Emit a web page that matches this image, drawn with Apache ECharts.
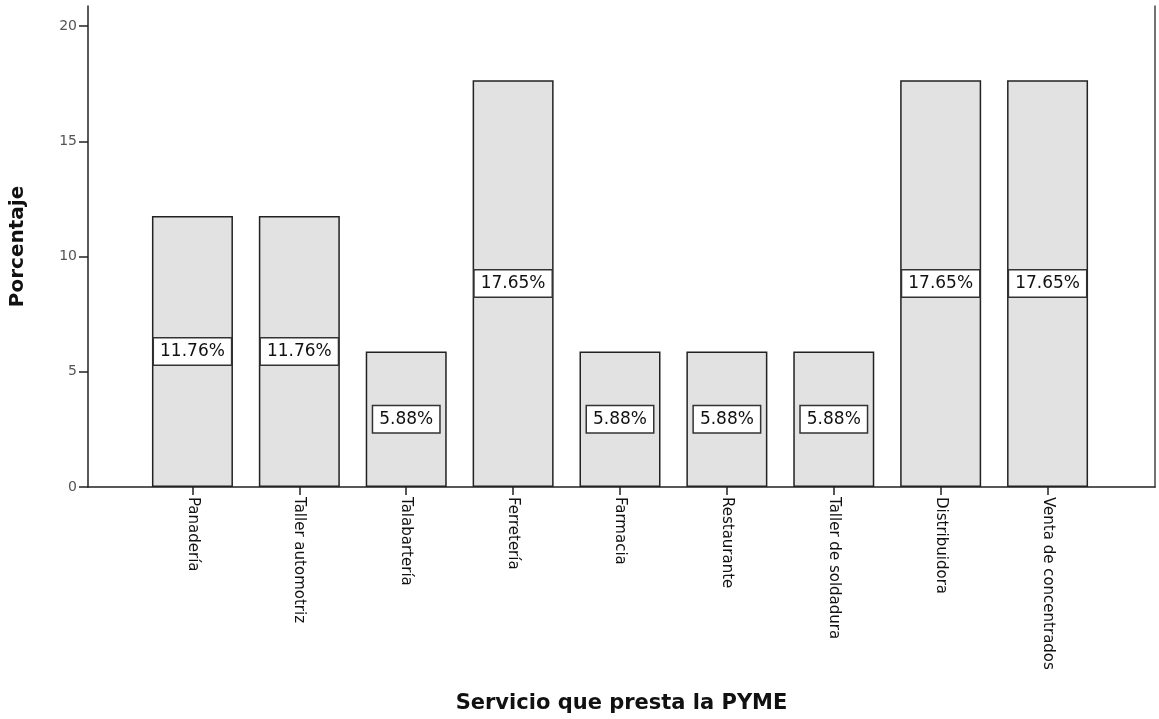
<!DOCTYPE html>
<html>
<head>
<meta charset="utf-8">
<script src="https://cdn.jsdelivr.net/npm/echarts@6/dist/echarts.min.js"></script>
<style>
html,body{margin:0;padding:0;background:#fff;}
#chart{width:1159px;height:719px;}
</style>
</head>
<body>
<div id="chart"></div>
<script>
const categories = ["Panadería", "Taller automotriz", "Talabartería", "Ferretería", "Farmacia", "Restaurante", "Taller de soldadura", "Distribuidora", "Venta de concentrados"];
const percentages = [11.76, 11.76, 5.88, 17.65, 5.88, 5.88, 5.88, 17.65, 17.65];
const yTicks = [0, 5, 10, 15, 20];
const yTitle = "Porcentaje";
const xTitle = "Servicio que presta la PYME";

const FONT = "DejaVu Sans, Verdana, sans-serif";
const YMAX = 20.87;

const chart = echarts.init(document.getElementById('chart'));
chart.setOption({
  animation: false,
  backgroundColor: '#fff',
  grid: [
    {left: 87, right: 4, top: 6, bottom: 232},
    {left: 139, right: 58, top: 6, bottom: 232}
  ],
  xAxis: [
    {
      type: 'value', gridIndex: 0, min: 0, max: 1,
      axisLine: {show: true, lineStyle: {color: '#222', width: 1.5}},
      axisTick: {show: false}, axisLabel: {show: false}, splitLine: {show: false},
      name: xTitle, nameLocation: 'middle', nameGap: 206,
      nameTextStyle: {fontFamily: FONT, fontSize: 21, fontWeight: 'bold', color: '#111'}
    },
    {
      type: 'category', gridIndex: 1, data: categories,
      axisLine: {show: false},
      axisTick: {show: true, alignWithLabel: true, length: 8, lineStyle: {color: '#222', width: 1.5}},
      axisLabel: {rotate: -90, margin: 10, fontFamily: FONT, fontSize: 15, color: '#111', interval: 0}
    }
  ],
  yAxis: [
    {
      type: 'value', gridIndex: 0, min: 0, max: YMAX,
      axisLine: {show: true, lineStyle: {color: '#222', width: 1.5}},
      axisTick: {show: true, length: 9, customValues: yTicks, lineStyle: {color: '#222', width: 1.5}},
      axisLabel: {customValues: yTicks, margin: 11, fontFamily: FONT, fontSize: 14, color: '#555'},
      splitLine: {show: false},
      name: yTitle, nameLocation: 'middle', nameGap: 60,
      nameTextStyle: {fontFamily: FONT, fontSize: 20, fontWeight: 'bold', color: '#111'}
    },
    {
      type: 'value', gridIndex: 0, position: 'right', min: 0, max: YMAX,
      axisLine: {show: true, lineStyle: {color: '#444', width: 1.5}},
      axisTick: {show: false}, axisLabel: {show: false}, splitLine: {show: false}
    },
    {
      type: 'value', gridIndex: 1, min: 0, max: YMAX, show: false
    }
  ],
  series: [{
    type: 'bar',
    xAxisIndex: 1, yAxisIndex: 2,
    data: percentages,
    barWidth: 81,
    itemStyle: {color: '#e2e2e2', borderColor: '#222', borderWidth: 1.5},
    label: {
      show: true, position: 'inside',
      formatter: p => p.value.toFixed(2) + '%',
      fontFamily: FONT, fontSize: 17, color: '#111',
      backgroundColor: '#fff', borderColor: '#333', borderWidth: 1.5,
      padding: [5, 6, 4, 6]
    }
  }]
});
</script>
</body>
</html>
